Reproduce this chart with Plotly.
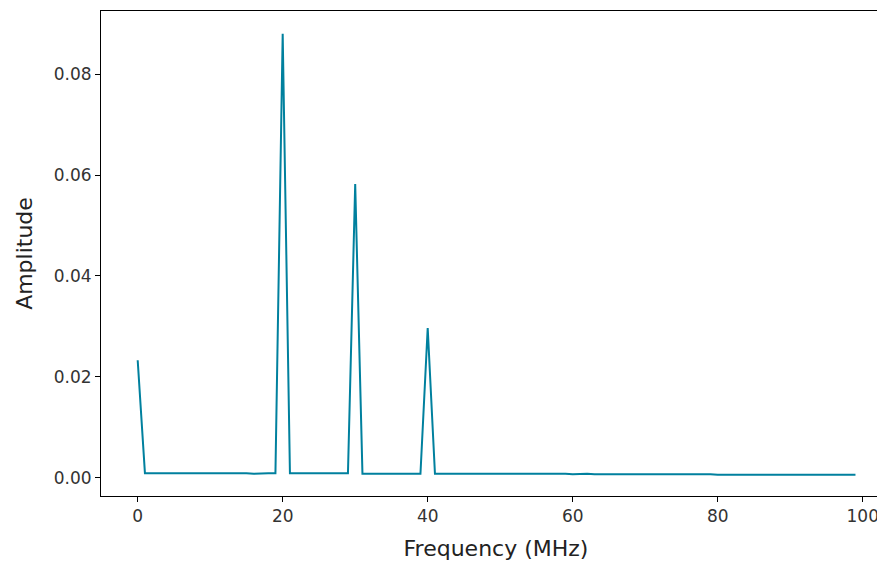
import plotly.graph_objects as go

freq = list(range(100))
amp = [0.0233,
 0.0009,0.0009,0.0009,0.0009,0.0010,0.0009,0.0009,0.0009,0.0010,0.0009,
 0.0009,0.0009,0.0009,0.0009,0.0009,0.0008,0.0009,0.0009,0.0009,
 0.0880,
 0.0009,0.0009,0.0009,0.0009,0.0009,0.0009,0.0009,0.0008,0.0009,
 0.0582,
 0.0008,0.0008,0.0008,0.0008,0.0008,0.0009,0.0008,0.0008,0.0008,
 0.0297,
 0.0008,0.0008,0.0008,0.0008,0.0009,0.0008,0.0008,0.0009,0.0008,
 0.0008,0.0008,0.0008,0.0008,0.0008,0.0008,0.0009,0.0008,0.0008,0.0008,
 0.0007,0.0008,0.0008,0.0007,0.0007,0.0007,0.0008,0.0008,0.0007,0.0007,
 0.0007,0.0007,0.0008,0.0007,0.0007,0.0007,0.0007,0.0007,0.0007,0.0007,
 0.0006,0.0006,0.0006,0.0006,0.0006,0.0007,0.0006,0.0006,0.0006,0.0006,
 0.0006,0.0006,0.0006,0.0006,0.0006,0.0006,0.0006,0.0006,0.0006,0.0006]

fig = go.Figure(go.Scatter(x=freq, y=amp, mode="lines",
                           line=dict(color="#00809e", width=2)))
axis = dict(showgrid=False, zeroline=False, showline=True, mirror=True,
            linecolor="black", linewidth=1, ticks="outside", ticklen=5,
            tickcolor="black", tickfont=dict(size=17, color="#333"))
fig.update_layout(
    width=885, height=571, plot_bgcolor="white", paper_bgcolor="white",
    margin=dict(l=93, r=2, t=3, b=83),
    font=dict(family="DejaVu Sans", color="#222"),
    showlegend=False,
    xaxis=dict(axis, range=[-5.06, 103.9], tickvals=[0,20,40,60,80,100],
               title=dict(text="Frequency (MHz)", font=dict(size=22))),
    yaxis=dict(axis, range=[-0.0036, 0.0925], tickvals=[0,0.02,0.04,0.06,0.08],
               tickformat=".2f",
               title=dict(text="Amplitude", font=dict(size=22))),
)
fig.write_html("out.html")
